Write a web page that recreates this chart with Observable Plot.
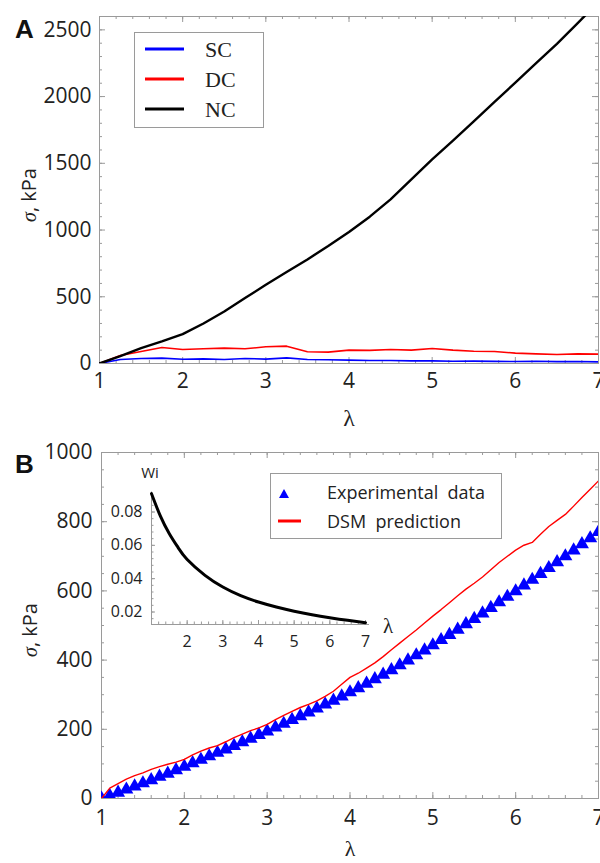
<!DOCTYPE html>
<html><head><meta charset="utf-8">
<script src="https://cdn.jsdelivr.net/npm/d3@7"></script>
<script src="https://cdn.jsdelivr.net/npm/@observablehq/plot@0.6"></script>
<style>
html,body{margin:0;padding:0;background:#fff;}
#wrap{position:relative;width:600px;height:863px;overflow:hidden;background:#fff;}
#wrap > svg{position:absolute;}
</style></head><body><div id="wrap"></div>
<script>
// ---------- Data ----------
// Panel A: stress vs stretch for three samples
const lambdaA = [1,1.25,1.5,1.75,2,2.25,2.5,2.75,3,3.25,3.5,3.75,4,4.25,4.5,4.75,5,5.25,5.5,5.75,6,6.25,6.5,6.75,7];
const scA = [0,30,38,40,32,35,30,38,33,42,30,28,25,22,22,20,20,17,18,16,15,17,14,15,12];
const dcA = [0,60,90,120,105,110,115,110,125,130,88,85,100,98,105,100,112,100,92,90,78,72,68,72,70];
const ncA = [0,55,115,165,220,300,390,490,590,685,780,880,985,1100,1230,1380,1530,1670,1815,1960,2105,2250,2395,2550,2710];
const seriesA = ["SC","DC","NC"];
const seriesColors = ["#0000ff","#ff0000","#000000"];

// Panel B: experimental data vs DSM prediction
const lambdaB = [1.0,1.1,1.2,1.3,1.4,1.5,1.6,1.7,1.8,1.9,2.0,2.1,2.2,2.3,2.4,2.5,2.6,2.7,2.8,2.9,3.0,3.1,3.2,3.3,3.4,3.5,3.6,3.7,3.8,3.9,4.0,4.1,4.2,4.3,4.4,4.5,4.6,4.7,4.8,4.9,5.0,5.1,5.2,5.3,5.4,5.5,5.6,5.7,5.8,5.9,6.0,6.1,6.2,6.3,6.4,6.5,6.6,6.7,6.8,6.9,7.0];
const expB = [0,8,17,26,35,44,53,63,72,82,92,102,112,122,132,142,152,163,173,184,194,205,216,227,238,249,260,272,283,295,307,319,332,345,358,371,385,399,414,428,443,458,473,488,504,519,535,551,567,583,599,616,632,649,666,683,700,717,735,752,770];
const dsmB = [0,30,43,56,66,74,84,92,99,105,113,126,137,146,153,164,176,186,196,204,214,228,240,252,263,272,282,295,310,330,350,362,377,392,410,430,449,468,487,507,527,546,566,586,605,622,640,661,682,700,718,732,740,764,786,804,821,845,870,894,918];

// Inset: Wi vs lambda
const lambdaW = [1,1.25,1.5,1.75,2,2.5,3,3.5,4,4.5,5,5.5,6,6.5,7];
const wiW = [0.091,0.0775,0.067,0.0585,0.0515,0.042,0.035,0.0298,0.026,0.023,0.0205,0.0184,0.0166,0.015,0.0136];

// Ticks
const xTicks = [1,2,3,4,5,6,7];
const yTicksA = [0,500,1000,1500,2000,2500];
const yTicksB = [0,200,400,600,800,1000];
const wiXTicks = [2,3,4,5,6,7];
const wiYTicks = [0.02,0.04,0.06,0.08];

// ---------- Helpers ----------
const W = 600;
const tickColor = "#9a9a9a";
const baseStyle = {fontFamily:"'Open Sans', sans-serif", fontSize:"21px", color:"#222", background:"transparent", overflow:"visible"};
const xMinor = d3.range(1, 7.0001, 0.2);

function frameTicks(yMajor, yMinor, innerW, innerH) {
  const M = 6, m = 3;
  return [
    Plot.ruleX(xTicks, {x: d => d, insetTop: innerH - M, stroke: tickColor}),
    Plot.ruleX(xMinor, {x: d => d, insetTop: innerH - m, stroke: tickColor}),
    Plot.ruleX(xTicks, {x: d => d, insetBottom: innerH - M, stroke: tickColor}),
    Plot.ruleX(xMinor, {x: d => d, insetBottom: innerH - m, stroke: tickColor}),
    Plot.ruleY(yMajor, {y: d => d, insetRight: innerW - M, stroke: tickColor}),
    Plot.ruleY(yMinor, {y: d => d, insetRight: innerW - m, stroke: tickColor}),
    Plot.ruleY(yMajor, {y: d => d, insetLeft: innerW - M, stroke: tickColor}),
    Plot.ruleY(yMinor, {y: d => d, insetLeft: innerW - m, stroke: tickColor})
  ];
}

const wrap = document.getElementById("wrap");
function place(svg, left, top) {
  svg.style.left = left + "px";
  svg.style.top = top + "px";
  wrap.appendChild(svg);
}

// ---------- Panel A ----------
const A = {h: 430, mt: 16, mb: 67, ml: 99, mr: 2};
const AinW = W - A.ml - A.mr, AinH = A.h - A.mt - A.mb;
const seriesAValues = [scA, dcA, ncA];
const plotA = Plot.plot({
  width: W, height: A.h, marginTop: A.mt, marginBottom: A.mb, marginLeft: A.ml, marginRight: A.mr,
  style: baseStyle,
  x: {domain: [1, 7]},
  y: {domain: [0, 2600]},
  marks: [
    Plot.frame({stroke: tickColor}),
    ...frameTicks(yTicksA, d3.range(0, 2600.1, 100), AinW, AinH),
    ...seriesA.map((s, k) => Plot.line(lambdaA, {
      x: d => d, y: (d, i) => seriesAValues[k][i],
      stroke: seriesColors[k], strokeWidth: k === 2 ? 2.4 : 1.6, clip: true
    })),
    Plot.axisX({ticks: xTicks, tickSize: 0, tickPadding: 10, tickFormat: d => String(d), label: null, fill: "#222"}),
    Plot.axisY({ticks: yTicksA, tickSize: 0, tickPadding: 8, tickFormat: d => String(d), label: null, fill: "#222"})
  ]
});
place(plotA, 0, 0);

// ---------- Panel B ----------
const B = {top: 430, h: 433, mt: 22, mb: 65, ml: 101, mr: 2};
const BinW = W - B.ml - B.mr, BinH = B.h - B.mt - B.mb;
const plotB = Plot.plot({
  width: W, height: B.h, marginTop: B.mt, marginBottom: B.mb, marginLeft: B.ml, marginRight: B.mr,
  style: baseStyle,
  x: {domain: [1, 7]},
  y: {domain: [0, 1000]},
  marks: [
    Plot.frame({stroke: tickColor}),
    ...frameTicks(yTicksB, d3.range(0, 1000.1, 50), BinW, BinH),
    Plot.dot(lambdaB, {x: d => d, y: (d, i) => expB[i], symbol: "triangle", r: 5.2, fill: "#0000ff", stroke: "none", clip: true}),
    Plot.line(lambdaB, {x: d => d, y: (d, i) => dsmB[i], stroke: "#ff0000", strokeWidth: 1.4, clip: true}),
    Plot.axisX({ticks: xTicks, tickSize: 0, tickPadding: 12, tickFormat: d => String(d), label: null, fill: "#222"}),
    Plot.axisY({ticks: yTicksB, tickSize: 0, tickPadding: 9, tickFormat: d => String(d), label: null, fill: "#222"})
  ]
});
place(plotB, 0, B.top);

// ---------- Inset ----------
const I = {left: 100, top: 470, w: 290, h: 180, ml: 51, mr: 25, mt: 21.5, mb: 26};
const IinW = I.w - I.ml - I.mr, IinH = I.h - I.mt - I.mb;
const wiXDomain = [1, 7], wiYDomain = [0.0125, 0.092];
const plotI = Plot.plot({
  width: I.w, height: I.h, marginTop: I.mt, marginBottom: I.mb, marginLeft: I.ml, marginRight: I.mr,
  style: {...baseStyle, fontSize: "16px"},
  x: {domain: wiXDomain},
  y: {domain: wiYDomain},
  marks: [
    Plot.ruleX([wiXDomain[0]], {stroke: tickColor}),
    Plot.ruleY([wiYDomain[0]], {stroke: tickColor, insetRight: -4}),
    Plot.ruleX(wiXTicks, {x: d => d, insetTop: IinH - 4, stroke: tickColor}),
    Plot.ruleX(d3.range(1.2, 7.0001, 0.2), {x: d => d, insetTop: IinH - 2.5, stroke: tickColor}),
    Plot.ruleY(wiYTicks, {y: d => d, insetRight: IinW - 4, stroke: tickColor}),
    Plot.ruleY(d3.range(0.016, 0.0905, 0.004), {y: d => d, insetRight: IinW - 2.5, stroke: tickColor}),
    Plot.line(lambdaW, {x: d => d, y: (d, i) => wiW[i], curve: "natural", stroke: "#000", strokeWidth: 3}),
    Plot.axisX({ticks: wiXTicks, tickSize: 0, tickPadding: 11, tickFormat: d => String(d), label: null, fill: "#222"}),
    Plot.axisY({ticks: wiYTicks, tickSize: 0, tickPadding: 9, tickFormat: d => d.toFixed(2), label: null, fill: "#222"})
  ]
});
place(plotI, I.left, I.top);

// ---------- Text overlay & legends ----------
const ns = "http://www.w3.org/2000/svg";
const ov = document.createElementNS(ns, "svg");
ov.setAttribute("width", 600); ov.setAttribute("height", 863);
ov.style.left = "0px"; ov.style.top = "0px";
const sans = "'Open Sans', sans-serif", serif = "'Liberation Serif', 'DejaVu Serif', serif";
const legendAItems = seriesA.map((s, k) => `
  <line x1="145" x2="184" y1="${49 + 30*k}" y2="${49 + 30*k}" stroke="${seriesColors[k]}" stroke-width="3"/>
  <text x="205" y="${57 + 30*k}" font-family="${serif}" font-size="22" fill="#222">${s}</text>`).join("");
ov.innerHTML = `
  <text x="15" y="38" font-family="'Liberation Sans', Arial, sans-serif" font-weight="bold" font-size="26" fill="#111">A</text>
  <text x="15" y="473" font-family="'Liberation Sans', Arial, sans-serif" font-weight="bold" font-size="26" fill="#111">B</text>
  <text transform="translate(36,195) rotate(-90)" text-anchor="middle" font-size="20" fill="#222"><tspan font-family="${serif}" font-style="italic">σ</tspan><tspan font-family="${sans}">, kPa</tspan></text>
  <text transform="translate(37,630) rotate(-90)" text-anchor="middle" font-size="20" fill="#222"><tspan font-family="${serif}" font-style="italic">σ</tspan><tspan font-family="${sans}">, kPa</tspan></text>
  <text x="349" y="426" text-anchor="middle" font-family="${serif}" font-size="24" fill="#222">λ</text>
  <text x="350" y="856" text-anchor="middle" font-family="${serif}" font-size="22" fill="#222">λ</text>
  <text x="150" y="478" text-anchor="middle" font-family="${sans}" font-size="15" fill="#222">Wi</text>
  <text x="383" y="633" font-family="${serif}" font-size="21" fill="#222">λ</text>
  <rect x="134.5" y="32.5" width="129" height="95" fill="#fff" stroke="${tickColor}"/>
  ${legendAItems}
  <rect x="270.5" y="473.5" width="231" height="65" fill="#fff" stroke="${tickColor}"/>
  <path d="M284,489 L289,498 L279,498 Z" fill="#0000ff"/>
  <line x1="278" x2="301" y1="521" y2="521" stroke="#ff0000" stroke-width="3"/>
  <text x="327" y="499" font-family="${sans}" font-size="18" fill="#222" xml:space="preserve">Experimental  data</text>
  <text x="327" y="528" font-family="${sans}" font-size="18" fill="#222" xml:space="preserve">DSM  prediction</text>
`;
wrap.appendChild(ov);
</script></body></html>
